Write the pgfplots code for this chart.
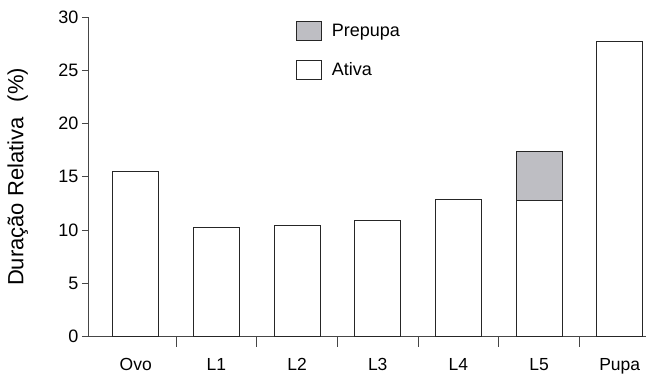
\documentclass[border=0pt]{standalone}
\usepackage{pgfplots}
\pgfplotsset{compat=1.18}
\usepackage{fontspec}
\setmainfont{Liberation Sans}
\definecolor{axgray}{RGB}{70,70,70}
\definecolor{prepupa}{RGB}{190,190,195}
\begin{document}
\begin{tikzpicture}
\begin{axis}[
  name=ax,
  scale only axis,
  width=557pt, height=320pt,
  xmin=-0.58, xmax=6.32,
  ymin=0, ymax=30,
  axis x line*=bottom, axis y line*=left,
  axis line style={axgray, line width=0.9pt},
  ytick={0,5,...,30},
  xtick={0,...,6},
  xticklabels={Ovo,L1,L2,L3,L4,L5,Pupa},
  minor xtick={0.5,1.5,2.5,3.5,4.5,5.5},
  every major x tick/.append style={draw=none},
  every minor x tick/.append style={axgray, line width=0.8pt},
  minor tick length=10pt,
  major tick length=7pt,
  tick align=outside,
  ytick style={axgray, line width=0.8pt},
  x tick label style={yshift=-11pt, font=\fontsize{17.5}{20}\selectfont},
  y tick label style={font=\fontsize{18}{21}\selectfont},
  /pgf/number format/assume math mode=true,
  ylabel={Duração Relativa\hspace{0.7em}(\%)},
  ylabel style={font=\fontsize{22}{25}\selectfont, at={(axis description cs:-0.128,0.5)}, anchor=center},
  ybar, bar shift=0pt,
  bar width=46pt,
  legend style={at={(0.366,0.995)}, anchor=north west, draw=none, fill=none,
    font=\fontsize{18}{21}\selectfont, row sep=19pt},
  legend cell align=left,
  legend image code/.code={\draw[#1, line width=0.9pt] (0pt,-9pt) rectangle (25pt,10pt); \path (33pt,0pt);},
]
% L5 total (Ativa + Prepupa = 12.8 + 4.62); grey part shows above the white Ativa bar
\addplot[draw=black!85, fill=prepupa, line width=1pt] coordinates {(5,17.42)};
\addlegendentry{Prepupa}
\addplot[draw=black!85, fill=white, line width=1pt] coordinates
  {(0,15.55) (1,10.25) (2,10.4) (3,10.95) (4,12.9) (5,12.8) (6,27.7)};
\addlegendentry{Ativa}
\end{axis}
\path ([xshift=-89pt,yshift=17pt]ax.north west);
\path ([yshift=-37pt]ax.south west);
\end{tikzpicture}
\end{document}
